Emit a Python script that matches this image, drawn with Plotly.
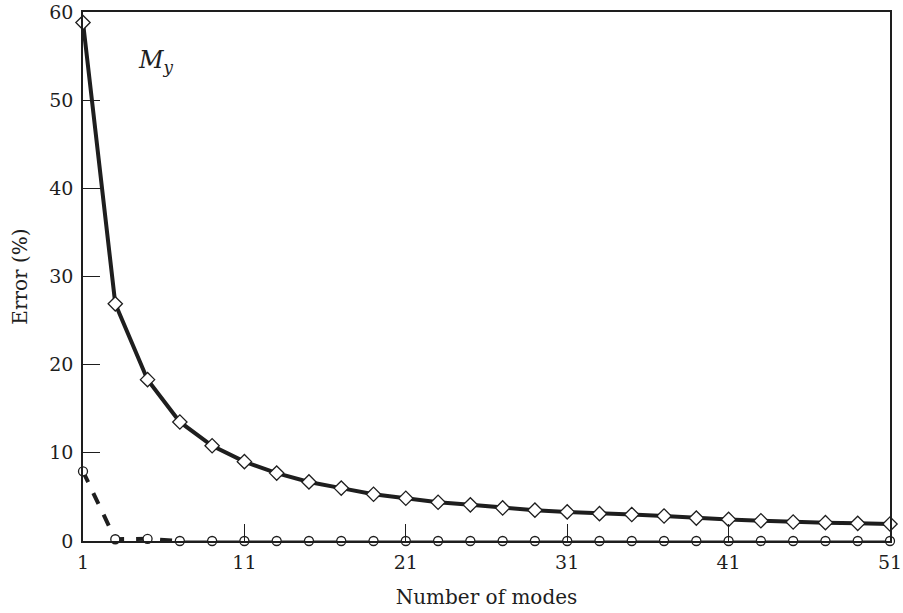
import plotly.graph_objects as go

modes = [1, 3, 5, 7, 9, 11, 13, 15, 17, 19, 21, 23, 25, 27, 29, 31, 33, 35, 37, 39, 41, 43, 45, 47, 49, 51]
err_diamond = [58.8, 26.9, 18.3, 13.5, 10.8, 9.0, 7.7, 6.7, 6.0, 5.3, 4.85, 4.4, 4.1, 3.75, 3.5, 3.3,
               3.1, 3.0, 2.84, 2.6, 2.45, 2.3, 2.15, 2.08, 2.0, 1.93]
err_circle = [7.9, 0.2, 0.25, 0.0, 0.0, 0.0, 0.0, 0.0, 0.0, 0.0, 0.0, 0.0, 0.0, 0.0, 0.0, 0.0,
              0.0, 0.0, 0.0, 0.0, 0.0, 0.0, 0.0, 0.0, 0.0, 0.0]
x_ticks = [1, 11, 21, 31, 41, 51]
y_ticks = [0, 10, 20, 30, 40, 50, 60]

ink = "#1e1e1e"
font_fam = "DejaVu Serif"

fig = go.Figure()
# circle series: thick dashed start, then thin solid
fig.add_trace(go.Scatter(x=modes[:4], y=err_circle[:4], mode="lines",
                         line=dict(color=ink, width=4, dash="dash"), cliponaxis=False,
                         showlegend=False))
fig.add_trace(go.Scatter(x=modes[3:], y=err_circle[3:], mode="lines",
                         line=dict(color=ink, width=1.2), cliponaxis=False, showlegend=False))
fig.add_trace(go.Scatter(x=modes, y=err_circle, mode="markers",
                         marker=dict(symbol="circle", size=9, color="white",
                                     line=dict(color=ink, width=1.3)),
                         cliponaxis=False, showlegend=False))
# diamond series
fig.add_trace(go.Scatter(x=modes, y=err_diamond, mode="lines+markers",
                         line=dict(color=ink, width=4),
                         marker=dict(symbol="diamond", size=11, color="white",
                                     line=dict(color=ink, width=1.3)),
                         cliponaxis=False, showlegend=False))

fig.add_annotation(x=5.5, y=54.4, xref="x", yref="y", showarrow=False,
                   text="<i>M<sub>y</sub></i>",
                   font=dict(family=font_fam, size=24, color=ink))

fig.update_layout(
    width=903, height=613,
    margin=dict(l=83, r=13, t=12, b=72),
    paper_bgcolor="white", plot_bgcolor="white",
    font=dict(family=font_fam, size=19, color=ink),
)
fig.update_xaxes(range=[1, 51], tickvals=x_ticks, ticktext=[str(v) for v in x_ticks],
                 ticks="inside", ticklen=17, tickwidth=1.2, tickcolor=ink,
                 showline=True, linecolor=ink, linewidth=1.5, mirror=True,
                 showgrid=False, zeroline=False, automargin=False, ticklabelstandoff=3,
                 title=dict(text="Number of modes", font=dict(size=20), standoff=18))
fig.update_yaxes(range=[0, 60], tickvals=y_ticks, ticktext=[str(v) for v in y_ticks],
                 ticks="inside", ticklen=17, tickwidth=1.2, tickcolor=ink,
                 showline=True, linecolor=ink, linewidth=1.5, mirror=True,
                 showgrid=False, zeroline=False, automargin=False, ticklabelstandoff=4,
                 title=dict(text="Error (%)", font=dict(size=20), standoff=16))

fig.write_html("out.html")
